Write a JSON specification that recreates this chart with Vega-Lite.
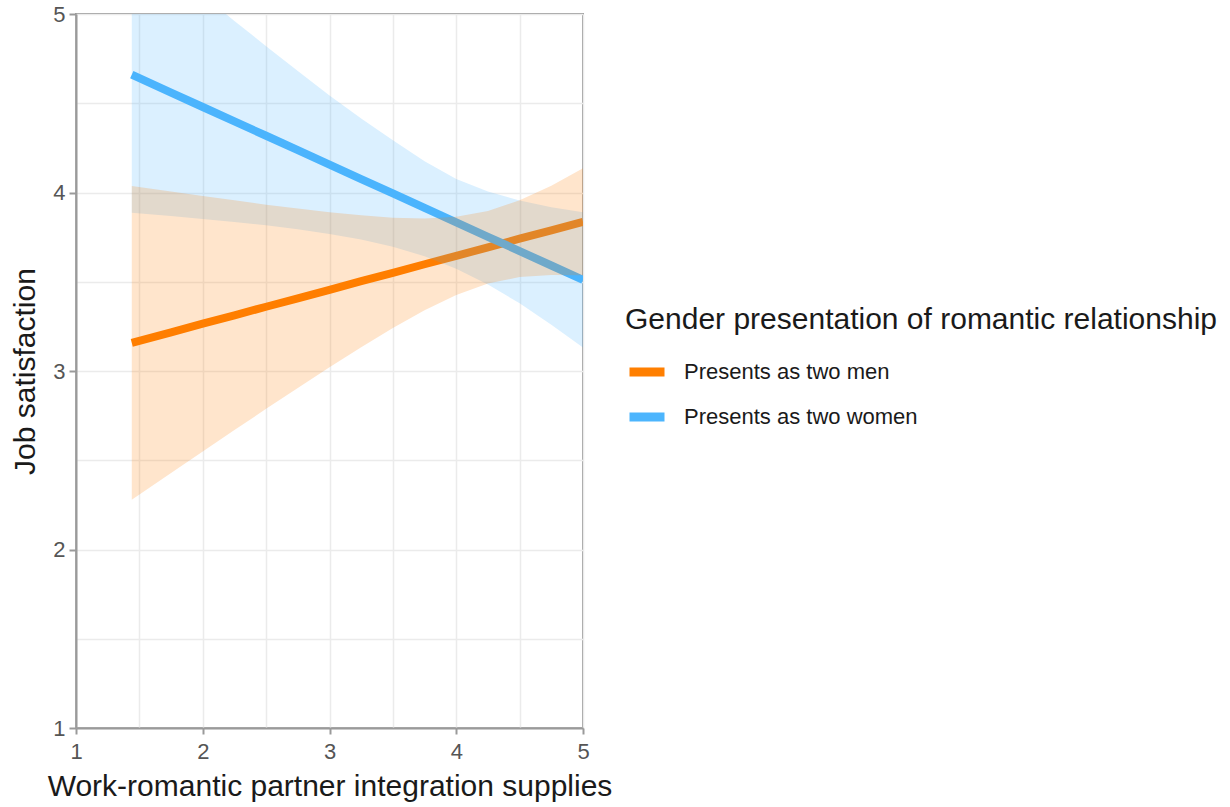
{
  "$schema": "https://vega.github.io/schema/vega-lite/v6.json",
  "width": 507,
  "height": 714,
  "autosize": "none",
  "padding": {"left": 76, "top": 14, "right": 647, "bottom": 79},
  "background": "white",
  "config": {
    "view": {"stroke": "#9a9a9a", "strokeWidth": 2},
    "font": "Liberation Sans"
  },
  "data": {
    "values": [
      {"x": 1.44, "group": "Presents as two men", "fit": 3.158, "lo": 2.279, "hi": 4.037},
      {"x": 1.75, "group": "Presents as two men", "fit": 3.217, "lo": 2.429, "hi": 4.005},
      {"x": 2.0, "group": "Presents as two men", "fit": 3.265, "lo": 2.549, "hi": 3.98},
      {"x": 2.25, "group": "Presents as two men", "fit": 3.312, "lo": 2.669, "hi": 3.956},
      {"x": 2.5, "group": "Presents as two men", "fit": 3.36, "lo": 2.788, "hi": 3.932},
      {"x": 2.75, "group": "Presents as two men", "fit": 3.407, "lo": 2.905, "hi": 3.91},
      {"x": 3.0, "group": "Presents as two men", "fit": 3.455, "lo": 3.021, "hi": 3.889},
      {"x": 3.25, "group": "Presents as two men", "fit": 3.503, "lo": 3.133, "hi": 3.872},
      {"x": 3.5, "group": "Presents as two men", "fit": 3.55, "lo": 3.241, "hi": 3.859},
      {"x": 3.75, "group": "Presents as two men", "fit": 3.598, "lo": 3.341, "hi": 3.855},
      {"x": 4.0, "group": "Presents as two men", "fit": 3.645, "lo": 3.426, "hi": 3.864},
      {"x": 4.25, "group": "Presents as two men", "fit": 3.693, "lo": 3.49, "hi": 3.896},
      {"x": 4.5, "group": "Presents as two men", "fit": 3.741, "lo": 3.526, "hi": 3.956},
      {"x": 4.75, "group": "Presents as two men", "fit": 3.788, "lo": 3.538, "hi": 4.038},
      {"x": 5.0, "group": "Presents as two men", "fit": 3.836, "lo": 3.536, "hi": 4.136},
      {"x": 1.44, "group": "Presents as two women", "fit": 4.66, "lo": 3.887, "hi": 5.433},
      {"x": 1.75, "group": "Presents as two women", "fit": 4.56, "lo": 3.868, "hi": 5.251},
      {"x": 2.0, "group": "Presents as two women", "fit": 4.479, "lo": 3.852, "hi": 5.106},
      {"x": 2.25, "group": "Presents as two women", "fit": 4.398, "lo": 3.835, "hi": 4.961},
      {"x": 2.5, "group": "Presents as two women", "fit": 4.318, "lo": 3.816, "hi": 4.82},
      {"x": 2.75, "group": "Presents as two women", "fit": 4.237, "lo": 3.794, "hi": 4.68},
      {"x": 3.0, "group": "Presents as two women", "fit": 4.156, "lo": 3.768, "hi": 4.544},
      {"x": 3.25, "group": "Presents as two women", "fit": 4.075, "lo": 3.736, "hi": 4.414},
      {"x": 3.5, "group": "Presents as two women", "fit": 3.995, "lo": 3.696, "hi": 4.293},
      {"x": 3.75, "group": "Presents as two women", "fit": 3.914, "lo": 3.643, "hi": 4.175},
      {"x": 4.0, "group": "Presents as two women", "fit": 3.833, "lo": 3.573, "hi": 4.075},
      {"x": 4.25, "group": "Presents as two women", "fit": 3.752, "lo": 3.485, "hi": 4.005},
      {"x": 4.5, "group": "Presents as two women", "fit": 3.672, "lo": 3.379, "hi": 3.955},
      {"x": 4.75, "group": "Presents as two women", "fit": 3.591, "lo": 3.259, "hi": 3.918},
      {"x": 5.0, "group": "Presents as two women", "fit": 3.51, "lo": 3.131, "hi": 3.89}
    ]
  },
  "encoding": {
    "x": {
      "field": "x", "type": "quantitative",
      "scale": {"domain": [1, 5], "nice": false, "zero": false},
      "axis": {
        "values": [1, 1.5, 2, 2.5, 3, 3.5, 4, 4.5, 5],
        "labelExpr": "datum.value % 1 === 0 ? format(datum.value, 'd') : ''",
        "labelFlush": false,
        "labelOverlap": false,
        "grid": true, "gridColor": "#ebebeb", "gridWidth": 1.5,
        "domainColor": "#9a9a9a", "domainWidth": 2,
        "tickColor": "#9a9a9a", "tickWidth": 2, "tickSize": 6,
        "tickOpacity": {"condition": {"test": "datum.value % 1 !== 0", "value": 0}, "value": 1},
        "labelFontSize": 22, "labelColor": "#555555", "labelPadding": 7,
        "title": "Work-romantic partner integration supplies",
        "titleFontSize": 30, "titleFontWeight": "normal", "titleColor": "#1a1a1a",
        "titlePadding": 9
      }
    },
    "color": {"field": "group", "type": "nominal"}
  },
  "layer": [
    {
      "mark": {"type": "line", "strokeWidth": 8, "clip": true},
      "encoding": {
        "y": {
          "field": "fit", "type": "quantitative",
          "scale": {"domain": [1, 5], "nice": false, "zero": false},
          "axis": {
            "values": [1, 1.5, 2, 2.5, 3, 3.5, 4, 4.5, 5],
            "labelExpr": "datum.value % 1 === 0 ? format(datum.value, 'd') : ''",
            "labelFlush": false,
            "labelOverlap": false,
            "grid": true, "gridColor": "#ebebeb", "gridWidth": 1.5,
            "domainColor": "#9a9a9a", "domainWidth": 2,
            "tickColor": "#9a9a9a", "tickWidth": 2, "tickSize": 7,
            "tickOpacity": {"condition": {"test": "datum.value % 1 !== 0", "value": 0}, "value": 1},
            "labelFontSize": 22, "labelColor": "#555555", "labelPadding": 4,
            "title": "Job satisfaction",
            "titleFontSize": 30, "titleFontWeight": "normal", "titleColor": "#1a1a1a",
            "titlePadding": 12
          }
        },
        "color": {
          "field": "group", "type": "nominal",
          "scale": {"domain": ["Presents as two men", "Presents as two women"], "range": ["#ff7f00", "#4cb5fd"]},
          "legend": {
            "orient": "none", "legendX": 549, "legendY": 291,
            "title": "Gender presentation of romantic relationship",
            "titleFontSize": 30, "titleFontWeight": "normal", "titleColor": "#1a1a1a",
            "titlePadding": 15, "titleLimit": 700,
            "labelFontSize": 22, "labelColor": "#1a1a1a", "labelOffset": 15, "labelLimit": 500,
            "symbolType": "stroke", "symbolStrokeWidth": 9, "symbolSize": 1225,
            "rowPadding": 5
          }
        }
      }
    },
    {
      "transform": [{"filter": "datum.group === 'Presents as two women'"}],
      "mark": {"type": "area", "opacity": 0.2, "clip": true},
      "encoding": {
        "y": {"field": "lo", "type": "quantitative"},
        "y2": {"field": "hi"},
        "color": {"field": "group", "type": "nominal", "legend": null}
      }
    },
    {
      "transform": [{"filter": "datum.group === 'Presents as two men'"}],
      "mark": {"type": "area", "opacity": 0.2, "clip": true},
      "encoding": {
        "y": {"field": "lo", "type": "quantitative"},
        "y2": {"field": "hi"},
        "color": {"field": "group", "type": "nominal", "legend": null}
      }
    }
  ]
}
